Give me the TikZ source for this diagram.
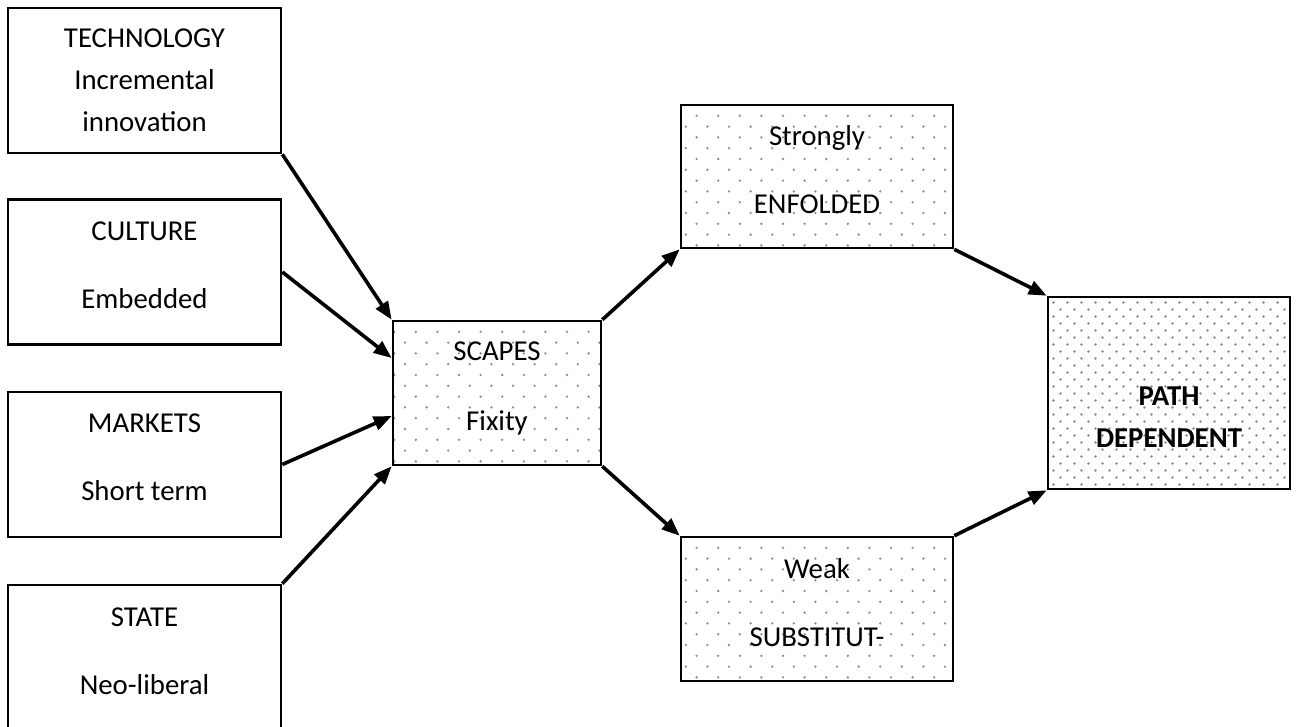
\documentclass[tikz,border=0pt]{standalone}
\usepackage{fontspec}
\setmainfont{Carlito}
\usetikzlibrary{arrows.meta,patterns}

\pgfdeclarepatternformonly{sparse dots}{\pgfqpoint{-1pt}{-1pt}}{\pgfqpoint{22.6pt}{22.6pt}}{\pgfqpoint{21.6pt}{21.6pt}}{
  \pgfpathcircle{\pgfqpoint{5.4pt}{5.4pt}}{1.3pt}
  \pgfpathcircle{\pgfqpoint{16.2pt}{16.2pt}}{1.3pt}
  \pgfusepath{fill}}
\pgfdeclarepatternformonly{dense dots}{\pgfqpoint{-1pt}{-1pt}}{\pgfqpoint{15pt}{15pt}}{\pgfqpoint{14pt}{14pt}}{
  \pgfpathcircle{\pgfqpoint{3.5pt}{3.5pt}}{1.3pt}
  \pgfpathcircle{\pgfqpoint{10.5pt}{10.5pt}}{1.3pt}
  \pgfusepath{fill}}

\begin{document}
\begin{tikzpicture}[x=1pt, y=-1pt,
    font=\fontsize{28.8pt}{42pt}\selectfont,
    factor/.style ={rectangle, draw, line width=2.6pt, inner sep=0pt, align=center,
      text depth=14pt, minimum width=273pt, minimum height=145pt},
    stage/.style ={rectangle, draw, line width=2.6pt, inner sep=0pt, align=center,
      text depth=14pt, pattern=sparse dots, pattern color=gray!90},
    link/.style ={line width=3.6pt, -{Triangle[length=18pt,width=14pt]}}]
   \useasboundingbox (0,0) rectangle (1298,726);
   \node[factor, text depth=0pt] (T) at (144.5,80.5) {TECHNOLOGY\\Incremental\\innovation};
   \node[factor] (C) at (144.5,272) {CULTURE\\[26pt]Embedded};
   \node[factor] (M) at (144.5,464.5) {MARKETS\\[26pt]Short term};
   \node[factor, minimum height=146pt] (S) at (144.5,658) {STATE\\[26pt]Neo-liberal};
   \node[stage, minimum width=208pt, minimum height=144pt] (Sc) at (497,393) {SCAPES\\[28pt]Fixity};
   \node[stage, minimum width=272pt, minimum height=143pt] (En) at (817,176.5) {Strongly\\[26pt]ENFOLDED};
   \node[stage, minimum width=272pt, minimum height=144pt] (Su) at (817,609) {Weak\\[26pt]SUBSTITUT-};
   \node[stage, pattern=dense dots, minimum width=242pt, minimum height=192pt,
     font=\fontsize{28.8pt}{42pt}\selectfont\bfseries, text height=108pt, text depth=0pt] (P) at (1169,393) {PATH\\DEPENDENT};
   \draw[link] (T.south east) to (Sc.north west);
   \draw[link] (C.east) to ([yshift=35pt]Sc.west);
   \draw[link] (M.east) to ([yshift=-23pt]Sc.west);
   \draw[link] (S.north east) to (Sc.south west);
   \draw[link] (Sc.north east) to (En.south west);
   \draw[link] (Sc.south east) to (Su.north west);
   \draw[link] (En.south east) to (P.north west);
   \draw[link] (Su.north east) to (P.south west);
 \end{tikzpicture}
\end{document}
